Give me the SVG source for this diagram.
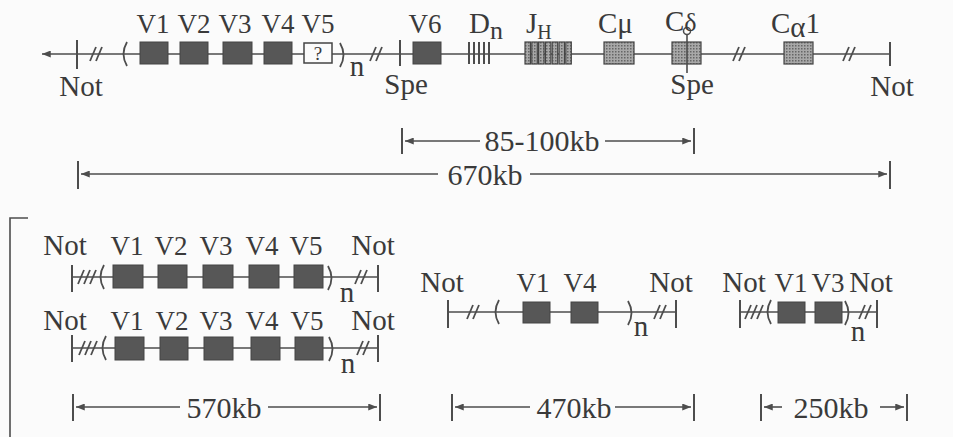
<svg xmlns="http://www.w3.org/2000/svg" xmlns:xlink="http://www.w3.org/1999/xlink" width="953" height="437" viewBox="0 0 953 437" font-family="'Liberation Serif', 'DejaVu Serif', serif">
<defs>
<style>
.t{font-family:"Liberation Serif","DejaVu Serif",serif;font-size:29px;fill:#3a3a3a}
.v{font-size:27px}
.d{font-size:30px}
.ln{stroke:#4d4d4d;stroke-width:1.6;fill:none}
.tk{stroke:#4d4d4d;stroke-width:2;fill:none}
.bx{fill:#575757;stroke:#444;stroke-width:1}
.st{fill:url(#stip);stroke:#444;stroke-width:1.2}
.sl{stroke:#4d4d4d;stroke-width:1.8;fill:none}
.pr{stroke:#4d4d4d;stroke-width:1.8;fill:none}
</style>
<pattern id="stip" width="3" height="3" patternUnits="userSpaceOnUse"><rect width="3" height="3" fill="#a8a8a8"/><rect width="1.5" height="1.5" fill="#666"/></pattern>
<marker id="ah" viewBox="0 0 10 8" refX="10" refY="4" markerWidth="10" markerHeight="7" markerUnits="userSpaceOnUse" orient="auto"><path d="M0,0 L10,4 L0,8 Z" fill="#4d4d4d"/></marker>
<g id="s2"><line x1="-7" y1="7" x2="-1" y2="-7"/><line x1="-1" y1="7" x2="5" y2="-7"/></g>
<g id="s3"><line x1="-10" y1="7" x2="-4" y2="-7"/><line x1="-4" y1="7" x2="2" y2="-7"/><line x1="2" y1="7" x2="8" y2="-7"/></g>
<path id="po" d="M3,-12 Q-4,0 3,12"/>
<path id="pc" d="M-3,-12 Q4,0 -3,12"/>
</defs>
<rect width="953" height="437" fill="#fbfbfb"/>

<g id="connectors">
  <path class="ln" d="M890,54 H42" marker-end="url(#ah)"/>
  <line class="ln" x1="72" y1="277" x2="378" y2="277"/>
  <line class="ln" x1="72" y1="348" x2="378" y2="348"/>
  <line class="ln" x1="448" y1="312" x2="676" y2="312"/>
  <line class="ln" x1="740" y1="312" x2="877" y2="312"/>
  <path class="ln" d="M480,141 H405" marker-end="url(#ah)"/>
  <path class="ln" d="M605,141 H691" marker-end="url(#ah)"/>
  <path class="ln" d="M438,174 H81" marker-end="url(#ah)"/>
  <path class="ln" d="M530,174 H887" marker-end="url(#ah)"/>
  <path class="ln" d="M180,407 H76" marker-end="url(#ah)"/>
  <path class="ln" d="M268,407 H377" marker-end="url(#ah)"/>
  <path class="ln" d="M530,407 H455" marker-end="url(#ah)"/>
  <path class="ln" d="M615,407 H691" marker-end="url(#ah)"/>
  <path class="ln" d="M782,407 H764" marker-end="url(#ah)"/>
  <path class="ln" d="M880,407 H904" marker-end="url(#ah)"/>
  <path class="ln" d="M28,218 H10 V437"/>
</g>

<g id="locus-top">
  <g id="ticks-top" class="tk">
    <line x1="77" y1="40" x2="77" y2="69"/>
    <line x1="400" y1="40" x2="400" y2="66"/>
    <line x1="890" y1="42" x2="890" y2="66"/>
  </g>
  <g class="sl">
    <use xlink:href="#s2" x="97" y="54"/>
    <use xlink:href="#s2" x="377" y="54"/>
    <use xlink:href="#s2" x="740" y="54"/>
    <use xlink:href="#s2" x="850" y="54"/>
  </g>
  <use class="pr" xlink:href="#po" x="124" y="54"/>
  <use class="pr" xlink:href="#pc" x="343" y="55"/>
  <g id="V1top"><rect class="bx" x="140" y="42" width="28" height="22"/><text class="t v" x="153" y="33" text-anchor="middle">V1</text></g>
  <g id="V2top"><rect class="bx" x="180" y="42" width="28" height="22"/><text class="t v" x="194" y="33" text-anchor="middle">V2</text></g>
  <g id="V3top"><rect class="bx" x="223" y="42" width="29" height="22"/><text class="t v" x="235" y="33" text-anchor="middle">V3</text></g>
  <g id="V4top"><rect class="bx" x="264" y="42" width="28" height="22"/><text class="t v" x="278" y="33" text-anchor="middle">V4</text></g>
  <g id="V5top"><rect x="304" y="43" width="28" height="20" fill="#fbfbfb" stroke="#444" stroke-width="1.5"/><text class="t" x="318" y="60" text-anchor="middle" style="font-size:19px">?</text><text class="t v" x="318" y="33" text-anchor="middle">V5</text></g>
  <text class="t" x="357" y="76" text-anchor="middle">n</text>
  <g id="V6"><rect class="bx" x="413" y="42" width="28" height="22"/><text class="t v" x="425" y="33" text-anchor="middle">V6</text></g>
  <g id="Dn">
    <g class="tk" stroke-width="1.6"><line x1="469" y1="42" x2="469" y2="64"/><line x1="474" y1="42" x2="474" y2="64"/><line x1="479" y1="42" x2="479" y2="64"/><line x1="484" y1="42" x2="484" y2="64"/><line x1="489" y1="42" x2="489" y2="64"/></g>
    <text class="t" x="469" y="33">D<tspan dy="6" style="font-size:26px">n</tspan></text>
  </g>
  <g id="JH">
    <rect class="st" x="525" y="42" width="5.5" height="22"/><rect class="st" x="531.8" y="42" width="5.5" height="22"/><rect class="st" x="538.6" y="42" width="5.5" height="22"/><rect class="st" x="545.4" y="42" width="5.5" height="22"/><rect class="st" x="552.2" y="42" width="5.5" height="22"/><rect class="st" x="559" y="42" width="5.5" height="22"/><rect class="st" x="565.8" y="42" width="5.5" height="22"/>
    <text class="t" x="526" y="33">J<tspan dy="6" style="font-size:20px">H</tspan></text>
  </g>
  <g id="Cmu"><rect class="st" x="604" y="42" width="30" height="22"/><text class="t" x="598" y="33">Cμ</text></g>
  <g id="Cdelta"><rect class="st" x="672" y="42" width="29" height="22"/><line class="ln" x1="687" y1="34.5" x2="687" y2="73"/><circle cx="687" cy="31" r="3.5" fill="none" stroke="#4d4d4d" stroke-width="1.5"/><text class="t" x="665" y="31">C<tspan style="font-size:26px">δ</tspan></text></g>
  <g id="Calpha1"><rect class="st" x="784" y="42" width="29" height="22"/><text class="t" x="771" y="33">C<tspan dy="4">α</tspan><tspan dy="-4">1</tspan></text></g>
  <text class="t" x="81" y="96" text-anchor="middle">Not</text>
  <text class="t" x="406" y="94" text-anchor="middle">Spe</text>
  <text class="t" x="692" y="94" text-anchor="middle">Spe</text>
  <text class="t" x="892" y="96" text-anchor="middle">Not</text>
</g>

<g id="dims-top">
  <g class="tk"><line x1="402" y1="128" x2="402" y2="154"/><line x1="694" y1="128" x2="694" y2="154"/><line x1="78" y1="161" x2="78" y2="189"/><line x1="890" y1="161" x2="890" y2="189"/></g>
  <text class="t d" x="542" y="151" text-anchor="middle">85-100kb</text>
  <text class="t d" x="485" y="185" text-anchor="middle">670kb</text>
</g>

<g id="map-row1">
  <g class="tk"><line x1="72" y1="265" x2="72" y2="292"/><line x1="378" y1="265" x2="378" y2="292"/></g>
  <use class="sl" xlink:href="#s3" x="88" y="277"/>
  <use class="sl" xlink:href="#s2" x="362" y="277"/>
  <use class="pr" xlink:href="#po" x="101" y="277"/>
  <use class="pr" xlink:href="#pc" x="331" y="278"/>
  <rect class="bx" x="113" y="265" width="30" height="23"/>
  <rect class="bx" x="158" y="265" width="29" height="23"/>
  <rect class="bx" x="203" y="265" width="30" height="23"/>
  <rect class="bx" x="249" y="265" width="30" height="23"/>
  <rect class="bx" x="294" y="265" width="29" height="23"/>
  <text class="t" x="65" y="255" text-anchor="middle">Not</text>
  <text class="t v" x="127" y="255" text-anchor="middle">V1</text>
  <text class="t v" x="171" y="255" text-anchor="middle">V2</text>
  <text class="t v" x="216" y="255" text-anchor="middle">V3</text>
  <text class="t v" x="262" y="255" text-anchor="middle">V4</text>
  <text class="t v" x="306" y="255" text-anchor="middle">V5</text>
  <text class="t" x="373" y="255" text-anchor="middle">Not</text>
  <text class="t" x="347" y="302" text-anchor="middle">n</text>
</g>

<g id="map-row2">
  <g class="tk"><line x1="72" y1="335" x2="72" y2="362"/><line x1="378" y1="335" x2="378" y2="362"/></g>
  <use class="sl" xlink:href="#s3" x="89" y="348"/>
  <use class="sl" xlink:href="#s2" x="364" y="348"/>
  <use class="pr" xlink:href="#po" x="103" y="348"/>
  <use class="pr" xlink:href="#pc" x="332" y="349"/>
  <rect class="bx" x="115" y="337" width="29" height="23"/>
  <rect class="bx" x="160" y="337" width="28" height="23"/>
  <rect class="bx" x="204" y="337" width="29" height="23"/>
  <rect class="bx" x="251" y="337" width="29" height="23"/>
  <rect class="bx" x="295" y="337" width="28" height="23"/>
  <text class="t" x="65" y="330" text-anchor="middle">Not</text>
  <text class="t v" x="127" y="330" text-anchor="middle">V1</text>
  <text class="t v" x="172" y="330" text-anchor="middle">V2</text>
  <text class="t v" x="216" y="330" text-anchor="middle">V3</text>
  <text class="t v" x="262" y="330" text-anchor="middle">V4</text>
  <text class="t v" x="307" y="330" text-anchor="middle">V5</text>
  <text class="t" x="373" y="330" text-anchor="middle">Not</text>
  <text class="t" x="348" y="373" text-anchor="middle">n</text>
</g>

<g id="map-V1V4">
  <g class="tk"><line x1="448" y1="300" x2="448" y2="328"/><line x1="676" y1="300" x2="676" y2="328"/></g>
  <use class="sl" xlink:href="#s2" x="474" y="312"/>
  <use class="sl" xlink:href="#s2" x="661" y="312"/>
  <use class="pr" xlink:href="#po" x="496" y="312"/>
  <use class="pr" xlink:href="#pc" x="631" y="313"/>
  <rect class="bx" x="523" y="302" width="27" height="21"/>
  <rect class="bx" x="571" y="302" width="27" height="21"/>
  <text class="t" x="442" y="292" text-anchor="middle">Not</text>
  <text class="t v" x="533" y="292" text-anchor="middle">V1</text>
  <text class="t v" x="580" y="292" text-anchor="middle">V4</text>
  <text class="t" x="671" y="292" text-anchor="middle">Not</text>
  <text class="t" x="641" y="336" text-anchor="middle">n</text>
</g>

<g id="map-V1V3">
  <g class="tk"><line x1="740" y1="300" x2="740" y2="328"/><line x1="877" y1="300" x2="877" y2="328"/></g>
  <use class="sl" xlink:href="#s3" x="755" y="312"/>
  <use class="sl" xlink:href="#s2" x="866" y="312"/>
  <use class="pr" xlink:href="#po" x="768" y="312"/>
  <use class="pr" xlink:href="#pc" x="848" y="313"/>
  <rect class="bx" x="778" y="302" width="27" height="21"/>
  <rect class="bx" x="815" y="302" width="27" height="21"/>
  <text class="t" x="744" y="292" text-anchor="middle">Not</text>
  <text class="t v" x="791" y="292" text-anchor="middle">V1</text>
  <text class="t v" x="828" y="292" text-anchor="middle">V3</text>
  <text class="t" x="871" y="292" text-anchor="middle">Not</text>
  <text class="t" x="858" y="341" text-anchor="middle">n</text>
</g>

<g id="dims-bottom">
  <g class="tk"><line x1="73" y1="394" x2="73" y2="421"/><line x1="380" y1="394" x2="380" y2="421"/><line x1="452" y1="394" x2="452" y2="421"/><line x1="694" y1="394" x2="694" y2="421"/><line x1="761" y1="394" x2="761" y2="421"/><line x1="907" y1="394" x2="907" y2="421"/></g>
  <text class="t d" x="224" y="418" text-anchor="middle">570kb</text>
  <text class="t d" x="574" y="418" text-anchor="middle">470kb</text>
  <text class="t d" x="831" y="418" text-anchor="middle">250kb</text>
</g>
</svg>
